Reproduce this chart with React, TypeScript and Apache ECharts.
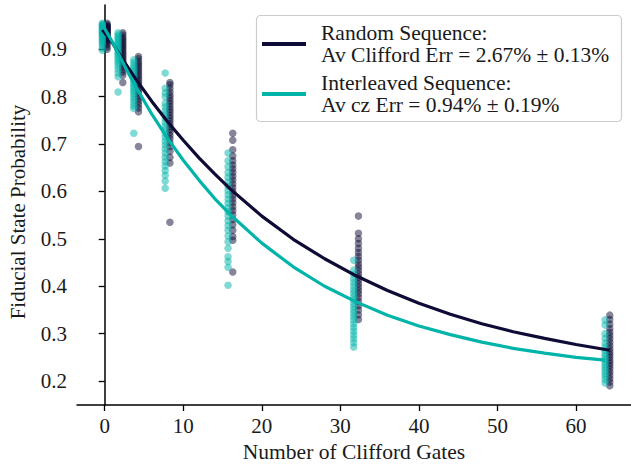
import React, { useEffect, useRef } from "react";
import * as echarts from "echarts";

const X_TICKS = [0, 10, 20, 30, 40, 50, 60];
const Y_TICKS = [0.2, 0.3, 0.4, 0.5, 0.6, 0.7, 0.8, 0.9];
const LENGTHS = [0, 2, 4, 8, 16, 32, 64];

const RANDOM_M0 = [0.955, 0.952, 0.95, 0.948, 0.947, 0.945, 0.944, 0.942, 0.94, 0.939, 0.937, 0.935, 0.933, 0.931, 0.929, 0.927, 0.925, 0.922, 0.92, 0.917, 0.914, 0.91, 0.905, 0.9];
const RANDOM_M2 = [0.935, 0.93, 0.925, 0.921, 0.917, 0.913, 0.909, 0.905, 0.901, 0.897, 0.893, 0.889, 0.885, 0.881, 0.877, 0.873, 0.868, 0.863, 0.858, 0.852, 0.845, 0.83];
const RANDOM_M4 = [0.885, 0.88, 0.874, 0.869, 0.864, 0.859, 0.854, 0.849, 0.844, 0.839, 0.834, 0.829, 0.824, 0.819, 0.814, 0.808, 0.802, 0.796, 0.79, 0.783, 0.776, 0.768, 0.695];
const RANDOM_M8 = [0.83, 0.825, 0.818, 0.81, 0.803, 0.797, 0.791, 0.785, 0.779, 0.773, 0.767, 0.761, 0.755, 0.749, 0.743, 0.737, 0.731, 0.725, 0.718, 0.711, 0.703, 0.695, 0.685, 0.672, 0.66, 0.535];
const RANDOM_M16 = [0.723, 0.708, 0.688, 0.675, 0.665, 0.656, 0.648, 0.64, 0.632, 0.624, 0.616, 0.608, 0.6, 0.592, 0.584, 0.576, 0.568, 0.56, 0.551, 0.541, 0.53, 0.518, 0.505, 0.497, 0.43];
const RANDOM_M32 = [0.548, 0.512, 0.5, 0.49, 0.48, 0.471, 0.463, 0.455, 0.447, 0.44, 0.433, 0.426, 0.419, 0.412, 0.405, 0.398, 0.391, 0.384, 0.376, 0.368, 0.359, 0.35, 0.34, 0.33];
const RANDOM_M64 = [0.339, 0.33, 0.32, 0.311, 0.303, 0.296, 0.289, 0.282, 0.275, 0.268, 0.262, 0.256, 0.25, 0.244, 0.238, 0.232, 0.226, 0.219, 0.212, 0.205, 0.198, 0.19];

const INTER_M0 = [0.955, 0.953, 0.951, 0.949, 0.947, 0.945, 0.943, 0.941, 0.939, 0.937, 0.935, 0.933, 0.93, 0.928, 0.925, 0.922, 0.919, 0.915, 0.912, 0.908, 0.903, 0.898];
const INTER_M2 = [0.935, 0.93, 0.926, 0.922, 0.918, 0.914, 0.91, 0.906, 0.902, 0.898, 0.894, 0.89, 0.886, 0.881, 0.876, 0.871, 0.865, 0.858, 0.85, 0.842, 0.81];
const INTER_M4 = [0.878, 0.872, 0.866, 0.861, 0.856, 0.851, 0.846, 0.841, 0.836, 0.831, 0.826, 0.821, 0.816, 0.811, 0.806, 0.8, 0.794, 0.788, 0.781, 0.775, 0.723];
const INTER_M8 = [0.85, 0.818, 0.808, 0.8, 0.786, 0.778, 0.77, 0.762, 0.754, 0.746, 0.738, 0.73, 0.722, 0.714, 0.706, 0.698, 0.69, 0.681, 0.672, 0.663, 0.654, 0.644, 0.634, 0.622, 0.607];
const INTER_M16 = [0.681, 0.665, 0.652, 0.64, 0.63, 0.62, 0.611, 0.602, 0.593, 0.584, 0.575, 0.566, 0.557, 0.548, 0.538, 0.528, 0.518, 0.506, 0.494, 0.48, 0.462, 0.452, 0.44, 0.402];
const INTER_M32 = [0.455, 0.434, 0.425, 0.416, 0.408, 0.4, 0.392, 0.385, 0.378, 0.371, 0.364, 0.357, 0.35, 0.343, 0.336, 0.329, 0.321, 0.313, 0.305, 0.297, 0.289, 0.281, 0.272];
const INTER_M64 = [0.329, 0.318, 0.3, 0.29, 0.28, 0.272, 0.265, 0.258, 0.252, 0.246, 0.24, 0.234, 0.228, 0.222, 0.216, 0.21, 0.203, 0.196];

const RANDOM_OFFSET = 0.3;
const INTER_OFFSET = -0.3;

const RANDOM_FIT_X = [-0.3, 1, 2, 3, 4, 6, 8, 10, 12, 14, 16, 20, 24, 28, 32, 36, 40, 44, 48, 52, 56, 60, 64.3];
const RANDOM_FIT = [0.941, 0.913, 0.886, 0.861, 0.836, 0.79, 0.747, 0.708, 0.671, 0.637, 0.605, 0.548, 0.499, 0.458, 0.422, 0.391, 0.364, 0.341, 0.321, 0.304, 0.29, 0.277, 0.265];
const INTER_FIT_X = [-0.3, 1, 2, 3, 4, 6, 8, 10, 12, 14, 16, 20, 24, 28, 32, 36, 40, 44, 48, 52, 56, 60, 63.7];
const INTER_FIT = [0.952, 0.915, 0.882, 0.85, 0.82, 0.763, 0.712, 0.666, 0.624, 0.585, 0.551, 0.491, 0.441, 0.4, 0.367, 0.339, 0.316, 0.298, 0.282, 0.269, 0.259, 0.25, 0.244];

const NAVY = "#0e0b36";
const TEAL = "#00b4aa";
const FONT = "Liberation Serif";
const INK = "#1a1a1a";

function points(cols: number[][], offset: number) {
  const out: number[][] = [];
  cols.forEach((vals, i) => vals.forEach((v) => out.push([LENGTHS[i] + offset, v])));
  return out;
}

export default function App() {
  const ref = useRef<HTMLDivElement>(null);
  useEffect(() => {
    if (!ref.current) return;
    const chart = echarts.init(ref.current, undefined, { renderer: "svg" });
    const randomPts = points([RANDOM_M0, RANDOM_M2, RANDOM_M4, RANDOM_M8, RANDOM_M16, RANDOM_M32, RANDOM_M64], RANDOM_OFFSET);
    const interPts = points([INTER_M0, INTER_M2, INTER_M4, INTER_M8, INTER_M16, INTER_M32, INTER_M64], INTER_OFFSET);
    const legendText = (t: string, y: number) => ({
      type: "text",
      x: 321,
      y,
      z: 11,
      style: { text: t, fontFamily: FONT, fontSize: 21.5, fill: INK, verticalAlign: "middle" },
    });
    chart.setOption({
      animation: false,
      backgroundColor: "#ffffff",
      grid: { left: 77, right: 0, top: 5, bottom: 61, containLabel: false },
      xAxis: {
        type: "value",
        min: -3.53,
        max: 67.0,
        axisLine: { show: true, lineStyle: { color: "#000", width: 1.5 } },
        axisTick: { show: true, inside: false, length: 6, lineStyle: { color: "#000", width: 1.3 }, customValues: X_TICKS },
        axisLabel: { customValues: X_TICKS, margin: 10, fontFamily: FONT, fontSize: 21, color: INK },
        splitLine: { show: false },
      },
      yAxis: {
        type: "value",
        min: 0.1494,
        max: 0.9935,
        axisLine: { show: true, lineStyle: { color: "#000", width: 1.5 } },
        axisTick: { show: true, inside: false, length: 6, lineStyle: { color: "#000", width: 1.3 }, customValues: Y_TICKS },
        axisLabel: { customValues: Y_TICKS, margin: 10, fontFamily: FONT, fontSize: 21, color: INK, formatter: (v: number) => v.toFixed(1) },
        splitLine: { show: false },
      },
      series: [
        {
          type: "scatter",
          name: "Random Sequence points",
          data: randomPts,
          symbolSize: 7.5,
          itemStyle: { color: NAVY, opacity: 0.5 },
          z: 2,
        },
        {
          type: "scatter",
          name: "Interleaved Sequence points",
          data: interPts,
          symbolSize: 7.5,
          itemStyle: { color: TEAL, opacity: 0.5 },
          z: 3,
        },
        {
          type: "line",
          name: "Random Sequence",
          data: RANDOM_FIT_X.map((x, i) => [x, RANDOM_FIT[i]]),
          showSymbol: false,
          smooth: false,
          lineStyle: { color: NAVY, width: 3.2 },
          z: 4,
        },
        {
          type: "line",
          name: "Interleaved Sequence",
          data: INTER_FIT_X.map((x, i) => [x, INTER_FIT[i]]),
          showSymbol: false,
          smooth: false,
          lineStyle: { color: TEAL, width: 3.2 },
          z: 5,
        },
      ],
      graphic: [
        {
          type: "text",
          x: 18,
          y: 212,
          rotation: Math.PI / 2,
          style: { text: "Fiducial State Probability", fontFamily: FONT, fontSize: 21, fill: INK, align: "center", verticalAlign: "middle" },
        },
        {
          type: "text",
          x: 354,
          y: 452,
          style: { text: "Number of Clifford Gates", fontFamily: FONT, fontSize: 21.5, fill: INK, align: "center", verticalAlign: "middle" },
        },
        {
          type: "rect",
          shape: { x: 256.5, y: 15.5, width: 365, height: 106, r: 4 },
          style: { fill: "rgba(255,255,255,0.85)", stroke: "#cccccc", lineWidth: 1.2 },
          z: 10,
        },
        { type: "line", shape: { x1: 262, y1: 44, x2: 306, y2: 44 }, style: { stroke: NAVY, lineWidth: 4 }, z: 11 },
        { type: "line", shape: { x1: 262, y1: 94, x2: 306, y2: 94 }, style: { stroke: TEAL, lineWidth: 4 }, z: 11 },
        legendText("Random Sequence:", 33),
        legendText("Av Clifford Err = 2.67% ± 0.13%", 55),
        legendText("Interleaved Sequence:", 83),
        legendText("Av cz Err = 0.94% ± 0.19%", 105),
      ],
    });
    return () => chart.dispose();
  }, []);
  return <div ref={ref} style={{ width: 631, height: 466, position: "absolute", left: 0, top: 0 }} />;
}
